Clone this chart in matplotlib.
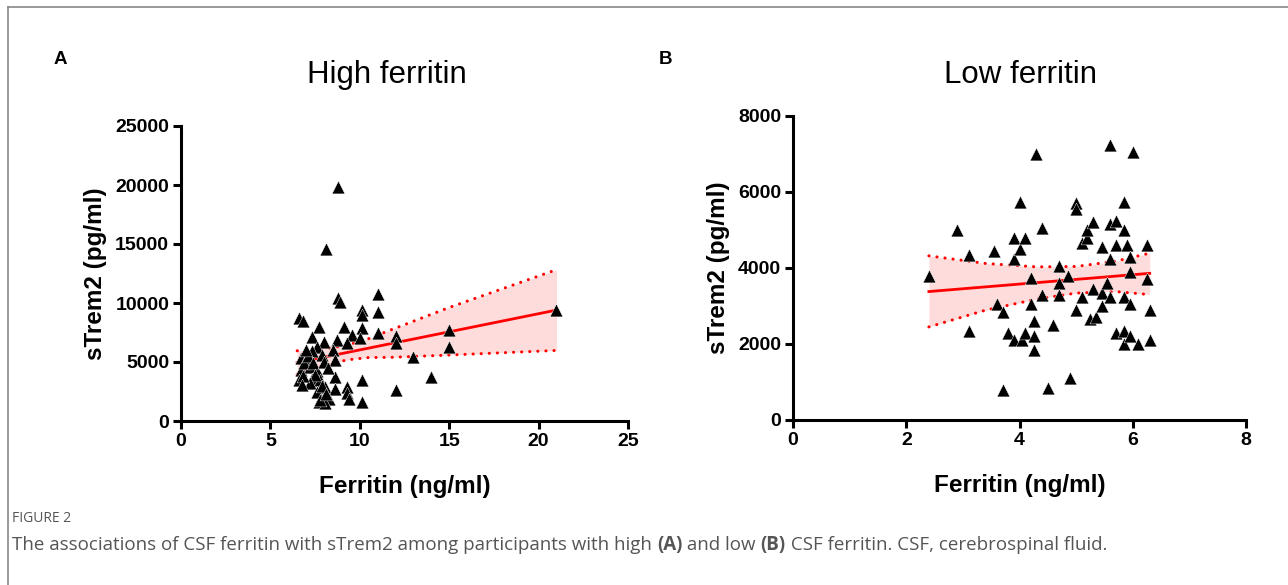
import numpy as np
import matplotlib
matplotlib.use("Agg")
import matplotlib.pyplot as plt
from matplotlib.lines import Line2D

plt.rcParams['font.family'] = ['Liberation Sans', 'DejaVu Sans']

# Panel A : high ferritin (ferritin ng/ml, sTrem2 pg/ml)
high_x = [8.8, 8.1, 8.8, 8.9, 6.6, 6.8, 7.7, 9.1, 10.1, 10.1, 10.1, 11.0, 11.0, 11.0,
          9.55, 7.3, 8.0, 8.7, 10.0, 9.3, 8.5, 7.6, 7.3, 6.7, 7.0, 7.9, 8.6, 6.7, 7.2,
          7.6, 6.6, 7.3, 7.8, 8.05, 8.6, 8.6, 9.3, 9.3, 10.1, 8.0, 8.3, 7.7, 8.05, 10.1,
          9.4, 12.05, 12.0, 12.0, 15.0, 15.0, 13.0, 14.0, 21.0, 6.9, 7.1, 7.4, 7.5, 7.2,
          6.8, 7.6, 7.9, 7.0, 8.0, 8.2, 7.8, 8.1, 6.75]
high_y = [19800, 14600, 10400, 10100, 8700, 8500, 8000, 8000, 9400, 9000, 7900, 10800, 9200, 7500,
          7300, 7150, 6700, 6850, 7000, 6600, 6000, 6300, 5900, 5300, 5200, 5600, 5200, 4300, 4600,
          4200, 3500, 3600, 3500, 2900, 3750, 2750, 2900, 2350, 3450, 2050, 1900, 1650, 1500, 1600,
          1900, 2600, 7200, 6600, 7700, 6300, 5400, 3700, 9400, 4900, 5500, 4900, 3900, 3200,
          3800, 2500, 3000, 6000, 5000, 4500, 1800, 2300, 3050]

# regression line and 95% band
high_fit_x = [6.5, 21.0]
high_fit_y = [4950, 9400]
high_band_x = [6.5, 7.5, 8.5, 9.3, 10.5, 11.7, 15.0, 21.0]
high_band_hi = [5950, 6060, 6210, 6440, 6980, 7700, 9620, 12820]
high_band_lo = [3950, 4460, 4910, 5180, 5380, 5390, 5590, 5980]

# Panel B : low ferritin
low_x = [2.4, 2.9, 3.1, 3.1, 3.55, 3.6, 3.7, 3.7, 3.8, 3.9, 3.9, 3.9, 4.0, 4.0, 4.05, 4.1,
         4.1, 4.2, 4.2, 4.25, 4.25, 4.25, 4.3, 4.4, 4.4, 4.5, 4.6, 4.7, 4.7, 4.7, 4.85, 4.9,
         5.0, 5.0, 5.0, 5.1, 5.1, 5.2, 5.2, 5.25, 5.3, 5.3, 5.35, 5.45, 5.45, 5.45, 5.55, 5.6,
         5.6, 5.6, 5.6, 5.7, 5.7, 5.7, 5.85, 5.85, 5.85, 5.85, 5.85, 5.9, 5.95, 5.95, 5.95,
         5.95, 6.0, 6.1, 6.25, 6.25, 6.3, 6.3]
low_y = [3800, 5000, 4350, 2350, 4450, 3050, 2850, 800, 2300, 2100, 4800, 4250, 5750, 4500, 2100, 4800,
         2300, 3750, 3050, 2600, 2200, 1850, 7000, 5050, 3300, 850, 2500, 4050, 3600, 3300, 3800, 1100,
         5700, 5550, 2900, 4650, 3250, 4800, 5000, 2650, 5200, 3450, 2700, 4550, 3350, 3000, 3600, 7250,
         5150, 4250, 3250, 5250, 4600, 2300, 5750, 5000, 3250, 2350, 2000, 4600, 4300, 3900, 3050,
         2200, 7050, 2000, 4600, 3700, 2900, 2100]

low_fit_x = [2.4, 6.3]
low_fit_y = [3380, 3860]
low_band_x = [2.4, 3.4, 4.3, 5.0, 5.7, 6.3]
low_band_hi = [4320, 4120, 4030, 4040, 4180, 4390]
low_band_lo = [2450, 2890, 3180, 3340, 3380, 3300]

fig = plt.figure(figsize=(12.88, 5.85), dpi=100)
fig.patch.set_facecolor('white')


def panel(rect, xs, ys, fx, fy, bx, bhi, blo, xlim, xticks, ylim, yticks):
    ax = fig.add_axes(rect)
    ax.fill_between(bx, blo, bhi, color='#ffdcdc', lw=0, zorder=1)
    ax.plot(bx, bhi, color='red', lw=2.2, ls=(0, (0.05, 2.6)), dash_capstyle='round', zorder=2)
    ax.plot(bx, blo, color='red', lw=2.2, ls=(0, (0.05, 2.6)), dash_capstyle='round', zorder=2)
    ax.plot(fx, fy, color='red', lw=2.0, zorder=3)
    ax.scatter(xs, ys, marker='^', s=85, c='black', edgecolors='white', linewidths=0.3,
               zorder=4, clip_on=False)
    ax.set_xlim(xlim)
    ax.set_ylim(ylim)
    ax.set_xticks(xticks)
    ax.set_yticks(yticks)
    for s in ['top', 'right']:
        ax.spines[s].set_visible(False)
    for s in ['left', 'bottom']:
        ax.spines[s].set_linewidth(2.2)
    ax.tick_params(width=2.2, length=5.5, labelsize=14, pad=3)
    for lab in ax.get_xticklabels() + ax.get_yticklabels():
        lab.set_fontweight('bold')
    ax.set_xlabel('Ferritin (ng/ml)', fontsize=17.5, fontweight='bold', labelpad=18)
    ax.set_ylabel('sTrem2 (pg/ml)', fontsize=17.5, fontweight='bold', labelpad=6)
    return ax


axA = panel([181 / 1288, 164 / 585, 447 / 1288, 295 / 585], high_x, high_y,
            high_fit_x, high_fit_y, high_band_x, high_band_hi, high_band_lo,
            (0, 25), [0, 5, 10, 15, 20, 25], (0, 25000), [0, 5000, 10000, 15000, 20000, 25000])
axB = panel([793 / 1288, 165 / 585, 453 / 1288, 304 / 585], low_x, low_y,
            low_fit_x, low_fit_y, low_band_x, low_band_hi, low_band_lo,
            (0, 8), [0, 2, 4, 6, 8], (0, 8000), [0, 2000, 4000, 6000, 8000])

fig.text(387 / 1288, 1 - 75 / 585, 'High ferritin', fontsize=22.5, ha='center', va='center')
fig.text(1020 / 1288, 1 - 75 / 585, 'Low ferritin', fontsize=22.5, ha='center', va='center')
fig.text(60 / 1288, 1 - 60 / 585, 'A', fontsize=13.5, fontweight='bold', ha='center', va='center')
fig.text(665 / 1288, 1 - 60 / 585, 'B', fontsize=13.5, fontweight='bold', ha='center', va='center')

# frame around the figure
fig.add_artist(Line2D([8 / 1288, 1], [1 - 7 / 585, 1 - 7 / 585], color='#888888', lw=1.2))
fig.add_artist(Line2D([8 / 1288, 8 / 1288], [0, 1 - 7 / 585], color='#888888', lw=1.2))

# caption
cap_font = ['Open Sans', 'DejaVu Sans']
fig.text(12 / 1288, 1 - 518 / 585, 'FIGURE 2', fontsize=10, color='#555555', family=cap_font,
         va='center')
pieces = [('The associations of CSF ferritin with sTrem2 among participants with high ', 'normal'),
          ('(A)', 'bold'), (' and low ', 'normal'), ('(B)', 'bold'),
          (' CSF ferritin. CSF, cerebrospinal fluid.', 'normal')]
fig.canvas.draw()
r = fig.canvas.get_renderer()
xpos = 12
for txt, w in pieces:
    t = fig.text(xpos / 1288, 1 - 545 / 585, txt, fontsize=13.5, color='#555555',
                 family=cap_font, fontweight=w, va='center')
    bb = t.get_window_extent(renderer=r)
    xpos += bb.width

fig.savefig('out.png', dpi=100, facecolor='white')
